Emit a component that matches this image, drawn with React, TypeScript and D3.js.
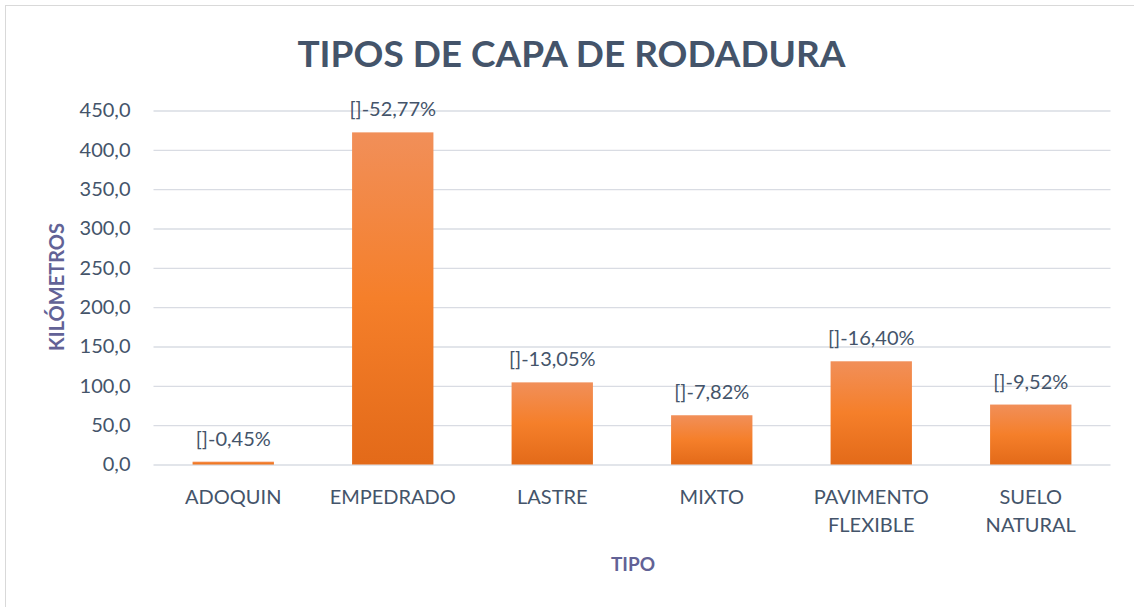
import * as d3 from 'd3'
import { useEffect, useRef } from 'react'

const categories = [['ADOQUIN'], ['EMPEDRADO'], ['LASTRE'], ['MIXTO'], ['PAVIMENTO', 'FLEXIBLE'], ['SUELO', 'NATURAL']]
const kilometros = [3.6, 422.2, 104.4, 62.6, 131.2, 76.2]
const etiquetas = ['[]-0,45%', '[]-52,77%', '[]-13,05%', '[]-7,82%', '[]-16,40%', '[]-9,52%']
const yTicks = [0, 50, 100, 150, 200, 250, 300, 350, 400, 450]

const App = () => {
  const svgRef = useRef<SVGSVGElement>(null)
  const width = 1134
  const height = 607
  const marginLeft = 153.5
  const marginRight = 23.5
  const marginTop = 110.5
  const marginBottom = 142.5
  const font = 'Lato, Carlito, sans-serif'
  const textColor = '#44546A'

  useEffect(() => {
    const svg = d3.select(svgRef.current)
    svg.selectAll('*').remove()

    const x = d3.scaleBand<number>()
      .domain(d3.range(categories.length))
      .range([marginLeft, width - marginRight])
      .paddingInner(0.49)
      .paddingOuter(0.245)
    const y = d3.scaleLinear([0, 450], [height - marginBottom, marginTop])

    const grad = svg.append('defs').append('linearGradient')
      .attr('id', 'barGrad').attr('x1', 0).attr('y1', 0).attr('x2', 0).attr('y2', 1)
    grad.append('stop').attr('offset', '0%').attr('stop-color', '#F18F59')
    grad.append('stop').attr('offset', '50%').attr('stop-color', '#F57F2A')
    grad.append('stop').attr('offset', '100%').attr('stop-color', '#E36A19')

    // chart frame
    svg.append('rect')
      .attr('x', 5.5).attr('y', 5.5)
      .attr('width', width + 20).attr('height', height + 20)
      .attr('fill', '#fff').attr('stroke', '#D9D9D9').attr('stroke-width', 1)

    svg.append('text')
      .attr('x', 571.5).attr('y', 67)
      .attr('text-anchor', 'middle')
      .attr('font-family', font).attr('font-weight', 700).attr('font-size', 37)
      .attr('fill', textColor)
      .text('TIPOS DE CAPA DE RODADURA')

    // y axis
    svg.append('g')
      .attr('transform', `translate(${marginLeft},0)`)
      .call(d3.axisLeft(y).tickValues(yTicks).tickSize(0).tickPadding(23)
        .tickFormat(d => d3.format('.1f')(d as number).replace('.', ',')))
      .call(g => g.select('.domain').remove())
      .call(g => g.selectAll('.tick text')
        .attr('font-family', font).attr('font-size', 20).attr('fill', textColor))
      .call(g => g.selectAll('.tick line').clone()
        .attr('x2', width - marginLeft - marginRight)
        .attr('stroke', '#D9DCE3').attr('stroke-width', 1.4))

    svg.append('g')
      .selectAll('rect')
      .data(kilometros)
      .join('rect')
      .attr('x', (d, i) => x(i)!)
      .attr('y', d => y(d))
      .attr('width', x.bandwidth())
      .attr('height', d => y(0) - y(d))
      .attr('fill', 'url(#barGrad)')

    svg.append('g')
      .selectAll('text')
      .data(kilometros)
      .join('text')
      .attr('x', (d, i) => x(i)! + x.bandwidth() / 2)
      .attr('y', d => y(d) - 16)
      .attr('text-anchor', 'middle')
      .attr('font-family', font).attr('font-size', 20).attr('fill', textColor)
      .text((d, i) => etiquetas[i])

    // x axis labels
    const xl = svg.append('g')
      .selectAll('text')
      .data(categories)
      .join('text')
      .attr('x', (d, i) => x(i)! + x.bandwidth() / 2)
      .attr('y', 504)
      .attr('text-anchor', 'middle')
      .attr('font-family', font).attr('font-size', 20).attr('fill', textColor)
    xl.selectAll('tspan')
      .data(d => d)
      .join('tspan')
      .attr('x', function () { return (this.parentNode as SVGTextElement).getAttribute('x') })
      .attr('dy', (d, i) => i === 0 ? 0 : 28)
      .text(d => d)

    svg.append('text')
      .attr('x', 633).attr('y', 571)
      .attr('text-anchor', 'middle')
      .attr('font-family', font).attr('font-weight', 700).attr('font-size', 19)
      .attr('fill', '#626296')
      .text('TIPO')

    svg.append('text')
      .attr('transform', 'translate(64,287) rotate(-90)')
      .attr('text-anchor', 'middle')
      .attr('font-family', font).attr('font-weight', 700).attr('font-size', 20)
      .attr('fill', '#626296')
      .text('KILÓMETROS')
  }, [])

  return (
    <svg ref={svgRef} width={width} height={height}
      style={{ position: 'absolute', left: 0, top: 0, background: '#fff' }} />
  )
}

export default App
